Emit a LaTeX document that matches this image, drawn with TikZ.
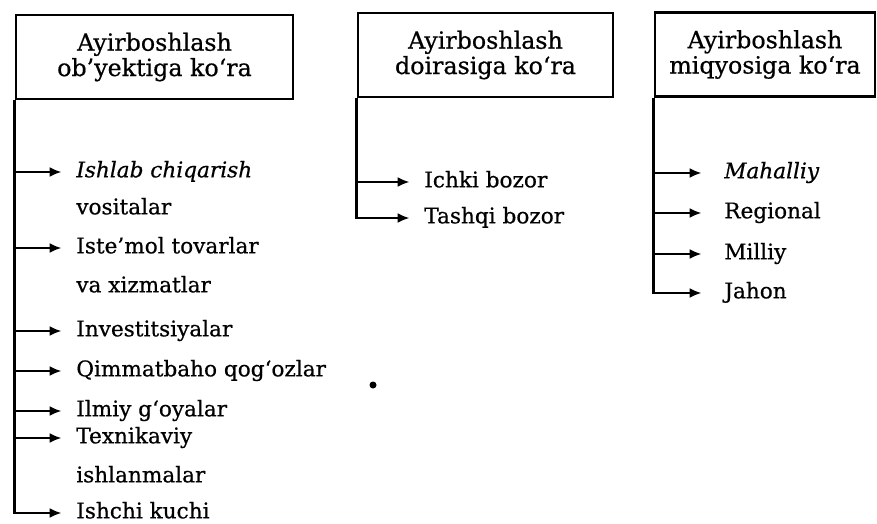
\documentclass[tikz,border=0pt]{standalone}
\usepackage{fontspec}
\setmainfont[FakeBold=0.6]{DejaVu Serif}
\usetikzlibrary{arrows.meta}

\begin{document}
\begin{tikzpicture}[
  x = 0.75pt, y = -0.75pt,
  line width = 2pt,
  head/.style = {draw, minimum height = 63pt, inner sep = 0pt, align = center,
                 font = \fontsize{17.8}{19}\selectfont},
  item/.style = {anchor = west, inner sep = 0pt, text height = 11.5pt, text depth = 3.5pt,
                 font = \fontsize{16.2}{18}\selectfont},
  branch/.style = {-{Latex[length = 9pt, width = 7.5pt]}, shorten > = #1},
  branch/.default = 10pt
  ]
  \useasboundingbox (0,0) rectangle (877,524);

  % headings
  \node[head, minimum width = 207.75pt] (obj) at (154.5,57) {Ayirboshlash\\ob’yektiga ko‘ra};
  \node[head, minimum width = 191.25pt] (doir) at (485.5,55) {Ayirboshlash\\doirasiga ko‘ra};
  \node[head, minimum width = 165pt] (miq) at (765,54.5) {Ayirboshlash\\miqyosiga ko‘ra};

  % first column
  \node[item] (o1) at (75,172) {\itshape Ishlab chiqarish};
  \node[item] (o1b) at (75,209) {vositalar};
  \node[item] (o2) at (75,248) {Iste’mol tovarlar};
  \node[item] (o2b) at (75,287) {va xizmatlar};
  \node[item] (o3) at (75,331) {Investitsiyalar};
  \node[item] (o4) at (75,371) {Qimmatbaho qog‘ozlar};
  \node[item] (o5) at (75,411) {Ilmiy g‘oyalar};
  \node[item] (o6) at (75,438) {Texnikaviy};
  \node[item] (o6b) at (75,477) {ishlanmalar};
  \node[item] (o7) at (75,513) {Ishchi kuchi};

  \foreach \i in {1,...,6}
    \draw[branch] (obj.south west |- o\i) -- (o\i);
  \draw[branch] (obj.south west) |- (o7);

  % second column
  \node[item] (d1) at (423,182) {Ichki bozor};
  \node[item] (d2) at (423,218) {Tashqi bozor};

  \draw[branch] (doir.south west |- d1) -- (d1);
  \draw[branch] (doir.south west) |- (d2);

  % third column
  \node[item] (m1) at (723,173) {\itshape Mahalliy};
  \node[item] (m2) at (723,213) {Regional};
  \node[item] (m3) at (723,254) {Milliy};
  \node[item] (m4) at (723,293) {Jahon};

  \foreach \i in {1,2,3}
    \draw[branch=16pt] (miq.south west |- m\i) -- (m\i);
  \draw[branch=16pt] (miq.south west) |- (m4);

  \fill (373,385) circle (3.5);
\end{tikzpicture}
\end{document}
